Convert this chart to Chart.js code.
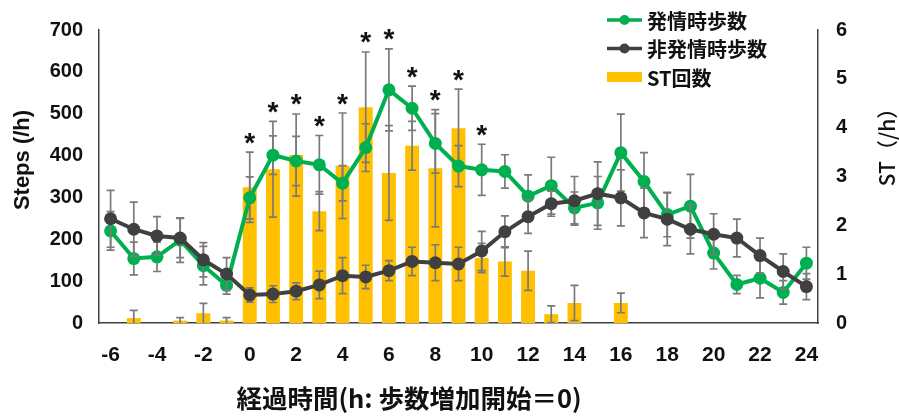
<!DOCTYPE html>
<html><head><meta charset="utf-8">
<script src="https://cdn.jsdelivr.net/npm/chart.js@4.4.0/dist/chart.umd.min.js"></script>
<style>html,body{margin:0;padding:0;background:#fff}#wrap{width:899px;height:417px;position:relative}</style>
</head><body><div id="wrap"><canvas id="c" width="899" height="417"></canvas></div>
<script>
// ---- data ----
const hours = [-6,-5,-4,-3,-2,-1,0,1,2,3,4,5,6,7,8,9,10,11,12,13,14,15,16,17,18,19,20,21,22,23,24];
const hourLabels = hours.map(String);
const estrusSteps = [220,154,158,198,137,90,299,401,387,378,334,419,557,513,429,375,366,362,303,328,275,287,407,338,259,279,167,92,107,73,143];
const estrusErr   = [46,39,35,53,46,21,50,46,59,70,42,57,98,53,71,49,61,40,51,68,38,63,92,69,53,76,38,22,47,28,38];
const nonEstrusSteps = [249,224,208,203,151,117,67,69,76,91,113,110,125,147,144,141,172,218,254,285,292,309,299,263,248,224,212,203,161,123,87];
const nonEstrusErr   = [68,65,46,47,41,39,17,20,20,33,43,28,24,34,43,40,47,38,40,30,58,76,67,59,63,59,49,45,42,42,31];
const stCounts = [0,0.1,0,0.05,0.2,0.05,2.78,3.15,3.44,2.29,3.22,4.42,3.07,3.63,3.17,3.99,1.33,1.26,1.07,0.18,0.41,0,0.41,0,0,0,0,0,0,0,0];
const stErr    = [0,0.16,0,0.06,0.2,0.06,0.72,0.98,0.84,0.4,1.08,1.13,0.97,0.5,1.2,0.8,0.3,0.3,0.4,0.17,0.36,0,0.2,0,0,0,0,0,0,0,0];
const significant = [0,0,0,0,0,0,1,1,1,1,1,1,1,1,1,1,1,0,0,0,0,0,0,0,0,0,0,0,0,0,0];
const seriesNames = ['発情時歩数','非発情時歩数','ST回数'];
const leftAxisTitle = 'Steps (/h)';
const rightAxisTitle = 'ST（/h）';
const xAxisTitle = '経過時間(h: 歩数増加開始＝0)';
const leftMax = 700, leftStep = 100, rightMax = 6, rightStep = 1;

const GREEN = '#00B050', DARK = '#404040', GOLD = '#FFC000', ERR = '#7a7a7a';
const JP = "'Noto Sans CJK JP', sans-serif";
const LAT = "'Liberation Sans', Arial, sans-serif";

const errorBarPlugin = {
  id: 'errorBars',
  _draw(chart, meta, ds) {
    if (!ds.errors) return;
    const ctx = chart.ctx, sc = chart.scales[meta.yAxisID], ca = chart.chartArea;
    ctx.save();
    ctx.beginPath(); ctx.rect(ca.left, ca.top - 2, ca.right - ca.left, ca.bottom - ca.top + 2); ctx.clip();
    ctx.strokeStyle = ERR; ctx.lineWidth = 1.7;
    meta.data.forEach((el, i) => {
      const e = ds.errors[i], v = ds.data[i];
      if (!e) return;
      const x = el.x;
      const yt = sc.getPixelForValue(v + e), yb = sc.getPixelForValue(Math.max(v - e, 0));
      ctx.beginPath();
      ctx.moveTo(x, yt); ctx.lineTo(x, yb);
      ctx.moveTo(x - 4, yt); ctx.lineTo(x + 4, yt);
      if (v - e > 0) { ctx.moveTo(x - 4, yb); ctx.lineTo(x + 4, yb); }
      ctx.stroke();
    });
    ctx.restore();
  },
  beforeDatasetDraw(chart, args) {
    const ds = chart.data.datasets[args.index];
    if (ds.type === 'line') this._draw(chart, args.meta, ds);
  },
  afterDatasetDraw(chart, args) {
    const ds = chart.data.datasets[args.index];
    if (ds.type === 'bar') this._draw(chart, args.meta, ds);
  },
  afterDatasetsDraw(chart) {
    const ctx = chart.ctx;
    ctx.save();
    ctx.font = 'bold 28px ' + LAT;
    ctx.fillStyle = '#111';
    ctx.textAlign = 'center';
    ctx.textBaseline = 'alphabetic';
    const m = ctx.measureText('*');
    const asc = m.actualBoundingBoxAscent, desc = m.actualBoundingBoxDescent;
    hours.forEach((h, i) => {
      if (!significant[i]) return;
      let top = Infinity, x = 0;
      chart.data.datasets.forEach((ds, di) => {
        const meta = chart.getDatasetMeta(di);
        const sc = chart.scales[meta.yAxisID];
        const y = sc.getPixelForValue(ds.data[i] + (ds.errors ? ds.errors[i] : 0));
        if (ds.type === 'line') x = meta.data[i].x;
        if (y < top) top = y;
      });
      const cy = top - 14;
      ctx.fillText('*', x, cy + (asc - desc) / 2);
    });
    ctx.restore();
  },
  afterDraw(chart) {
    const ctx = chart.ctx;
    ctx.save();
    // legend
    const ds = chart.data.datasets;
    const rows = [
      {d: ds[0], y: 20}, {d: ds[1], y: 48.5}, {d: ds[2], y: 77}
    ];
    ctx.font = 'bold 20px ' + JP;
    ctx.textBaseline = 'middle';
    ctx.textAlign = 'left';
    rows.forEach(r => {
      const d = r.d;
      if (d.type === 'line') {
        ctx.strokeStyle = d.borderColor; ctx.lineWidth = 3.5;
        ctx.beginPath(); ctx.moveTo(607, r.y); ctx.lineTo(642, r.y); ctx.stroke();
        ctx.fillStyle = d.borderColor;
        ctx.beginPath(); ctx.arc(624.5, r.y, 5, 0, Math.PI * 2); ctx.fill();
      } else {
        ctx.fillStyle = d.backgroundColor;
        ctx.fillRect(607, r.y - 5, 35, 10);
      }
      ctx.fillStyle = '#111';
      ctx.fillText(d.label, 647, r.y + 1);
    });
    // left axis title
    ctx.save();
    ctx.translate(23, 160);
    ctx.rotate(-Math.PI / 2);
    ctx.font = 'bold 22px ' + LAT;
    ctx.textAlign = 'center';
    ctx.textBaseline = 'middle';
    ctx.fillStyle = '#111';
    ctx.fillText(leftAxisTitle, 0, 0);
    ctx.restore();
    // right axis title
    ctx.save();
    ctx.translate(887, 142);
    ctx.rotate(-Math.PI / 2);
    ctx.font = '500 21px ' + JP;
    ctx.textAlign = 'center';
    ctx.textBaseline = 'middle';
    ctx.fillStyle = '#111';
    ctx.fillText(rightAxisTitle, 0, 0);
    ctx.restore();
    // x axis title
    ctx.save();
    ctx.font = 'bold 25.5px ' + JP;
    ctx.textAlign = 'center';
    ctx.textBaseline = 'middle';
    ctx.fillStyle = '#111';
    ctx.fillText(xAxisTitle, 409, 398);
    ctx.restore();
    ctx.restore();
  }
};

const chart = new Chart(document.getElementById('c'), {
  data: {
    labels: hourLabels,
    datasets: [
      { type: 'line', label: seriesNames[0], data: estrusSteps, errors: estrusErr, yAxisID: 'y',
        borderColor: GREEN, backgroundColor: GREEN, borderWidth: 4, pointRadius: 6.5, pointBorderWidth: 0,
        pointBackgroundColor: GREEN, tension: 0, order: 2 },
      { type: 'line', label: seriesNames[1], data: nonEstrusSteps, errors: nonEstrusErr, yAxisID: 'y',
        borderColor: DARK, backgroundColor: DARK, borderWidth: 4, pointRadius: 6.5, pointBorderWidth: 0,
        pointBackgroundColor: DARK, tension: 0, order: 1 },
      { type: 'bar', label: seriesNames[2], data: stCounts, errors: stErr, yAxisID: 'y1',
        backgroundColor: GOLD, barPercentage: 0.6, categoryPercentage: 1, order: 3 }
    ]
  },
  options: {
    responsive: false,
    animation: false,
    devicePixelRatio: 1,
    layout: { padding: { top: 27, left: 0, right: 0, bottom: 0 } },
    plugins: { legend: { display: false }, tooltip: { enabled: false } },
    scales: {
      x: {
        grid: { display: false, drawTicks: false },
        border: { display: true, color: '#404040', width: 1.5 },
        ticks: { autoSkip: false, maxRotation: 0, padding: 20, color: '#111',
          font: { family: LAT, size: 21, weight: 'bold' },
          callback: (v, i) => (hours[i] % 2 === 0 ? hourLabels[i] : '') },
        afterFit: s => { s.height = 94; }
      },
      y: {
        position: 'left', min: 0, max: leftMax,
        grid: { display: false, drawTicks: false },
        border: { display: true, color: '#404040', width: 1.5 },
        ticks: { stepSize: leftStep, padding: 16, color: '#111', font: { family: LAT, size: 20, weight: 'bold' } },
        title: { display: false, text: leftAxisTitle },
        afterFit: s => { s.width = 99; }
      },
      y1: {
        position: 'right', min: 0, max: rightMax,
        grid: { display: false, drawTicks: false },
        border: { display: true, color: '#404040', width: 1.5 },
        ticks: { stepSize: rightStep, padding: 18, color: '#111', font: { family: LAT, size: 20, weight: 'bold' } },
        afterFit: s => { s.width = 81; }
      }
    }
  },
  plugins: [errorBarPlugin]
});
</script></body></html>
